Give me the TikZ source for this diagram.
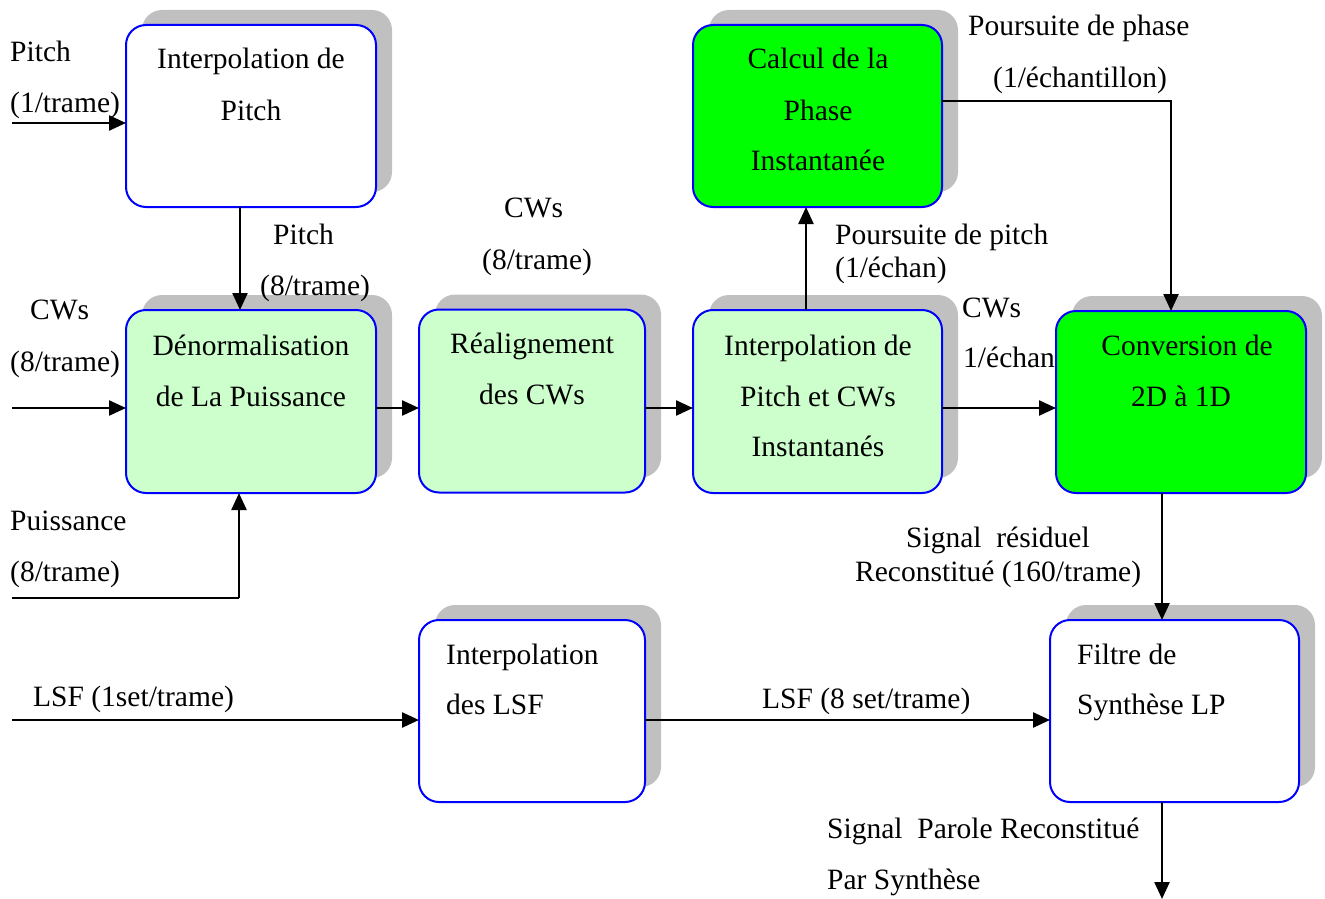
\documentclass[tikz,border=0pt]{standalone}
\usepackage{fontspec}
\setmainfont{Liberation Serif}
\usetikzlibrary{arrows.meta,shadows}
\definecolor{boxblue}{RGB}{0,0,255}
\definecolor{palegreen}{RGB}{204,255,204}
\definecolor{brightgreen}{RGB}{0,255,0}
\definecolor{shadowgray}{RGB}{192,192,192}
\tikzset{
  block/.style={draw=boxblue, line width=2pt, rounded corners=20pt,
    inner sep=0pt, outer sep=0pt,
    drop shadow={shadow xshift=16pt, shadow yshift=15pt, fill=shadowgray, opacity=1}},
  plainbox/.style={block, fill=white},
  softbox/.style={block, fill=palegreen},
  hotbox/.style={block, fill=brightgreen},
  txt/.style={font=\fontsize{29.5}{34}\selectfont, inner sep=0pt, anchor=base},
  txtl/.style={txt, anchor=base west},
  arr/.style={line width=2.4pt, -{Triangle[length=17pt,width=15pt]}},
  wire/.style={line width=2.4pt}
}
\begin{document}
\begin{tikzpicture}[x=1pt, y=-1pt]
\useasboundingbox (0,0) rectangle (1325,899);

% processing blocks
\node[plainbox, minimum width=250pt, minimum height=182pt] (b1) at (251,116) {};
\node[softbox, minimum width=250pt, minimum height=183pt] (b2) at (251,401.5) {};
\node[softbox, minimum width=226pt, minimum height=183pt] (b3) at (532,401) {};
\node[softbox, minimum width=249pt, minimum height=183pt] (b4) at (817.5,401.5) {};
\node[hotbox, minimum width=249pt, minimum height=182pt] (b5) at (817.5,116) {};
\node[hotbox, minimum width=250pt, minimum height=182pt] (b6) at (1181,402) {};
\node[plainbox, minimum width=226pt, minimum height=182pt] (b7) at (532,711) {};
\node[plainbox, minimum width=249pt, minimum height=182pt] (b8) at (1174.5,711) {};

% block titles
\node[txt] (b1a) at (251,69) {Interpolation de};
\node[txt] (b1b) at (251,120) {Pitch};
\node[txt] (b2a) at (251,355) {Dénormalisation};
\node[txt] (b2b) at (251,406) {de La Puissance};
\node[txt] (b3a) at (532,353) {Réalignement};
\node[txt] (b3b) at (532,404) {des CWs};
\node[txt] (b4a) at (818,355) {Interpolation de};
\node[txt] (b4b) at (818,406) {Pitch et CWs};
\node[txt] (b4c) at (818,456) {Instantanés};
\node[txt] (b5a) at (818,69) {Calcul de la};
\node[txt] (b5b) at (818,120) {Phase};
\node[txt] (b5c) at (818,170) {Instantanée};
\node[txt] (b6a) at (1187,355) {Conversion de};
\node[txt] (b6b) at (1181,406) {2D à 1D};
\node[txtl] (b7a) at (446,664) {Interpolation};
\node[txtl] (b7b) at (446,714) {des LSF};
\node[txtl] (b8a) at (1077,664) {Filtre de};
\node[txtl] (b8b) at (1077,714) {Synthèse LP};

% signal labels
\node[txtl] (l1) at (10,62) {Pitch};
\node[txtl] (l2) at (10,112) {(1/trame)};
\node[txtl] (l3) at (273,244) {Pitch};
\node[txtl] (l4) at (260,295) {(8/trame)};
\node[txtl] (l5) at (30,319) {CWs};
\node[txtl] (l6) at (10,371) {(8/trame)};
\node[txtl] (l7) at (10,530) {Puissance};
\node[txtl] (l8) at (10,581) {(8/trame)};
\node[txtl] (l9) at (504,217) {CWs};
\node[txtl] (l10) at (482,269) {(8/trame)};
\node[txtl] (l11) at (835,244) {Poursuite de pitch};
\node[txtl] (l12) at (835,277) {(1/échan)};
\node[txtl] (l13) at (962,317) {CWs};
\node[txtl] (l14) at (963,367) {1/échan};
\node[txtl] (l15) at (968,36) {Poursuite de phase};
\node[txtl] (l16) at (993,87) {(1/échantillon)};
\node[txtl] (l17) at (906,547) {Signal\ \ résiduel};
\node[txtl] (l18) at (855,581) {Reconstitué (160/trame)};
\node[txtl] (l19) at (33,706) {LSF (1set/trame)};
\node[txtl] (l20) at (762,708) {LSF (8 set/trame)};
\node[txtl] (l21) at (827,838) {Signal\ \ Parole Reconstitué};
\node[txtl] (l22) at (827,889) {Par Synthèse};

% free ends of the inputs and the output
\coordinate (inPitch) at (12,123);
\coordinate (inCW) at (12,408);
\coordinate (inPow) at (12,598);
\coordinate (inLSF) at (12,720);
\coordinate (out) at (1162,899);

% connections
\draw[arr] (inPitch) -- (inPitch -| b1.west);
\draw[arr] ([xshift=-11pt]b1.south) -- ([xshift=-11pt]b2.north);
\draw[arr] (inCW) -- (inCW -| b2.west);
\draw[arr] ([xshift=-12pt]b2.south |- inPow) -- ([xshift=-12pt]b2.south);
\draw[wire] (inPow) -- ([xshift=-12pt]b2.south |- inPow);
\draw[arr] (inCW -| b2.east) -- (inCW -| b3.west);
\draw[arr] (inCW -| b3.east) -- (inCW -| b4.west);
\draw[arr] ([xshift=-11.5pt]b4.north) -- ([xshift=-11.5pt]b5.south);
\draw[arr] ([yshift=15pt]b5.east) -| ([xshift=-10pt]b6.north);
\draw[arr] (inCW -| b4.east) -- (inCW -| b6.west);
\draw[arr] ([xshift=-19pt]b6.south) -- ([xshift=-19pt]b6.south |- b8.north);
\draw[arr] (inLSF) -- (inLSF -| b7.west);
\draw[arr] (inLSF -| b7.east) -- (inLSF -| b8.west);
\draw[arr] (out |- b8.south) -- (out);
\end{tikzpicture}
\end{document}
